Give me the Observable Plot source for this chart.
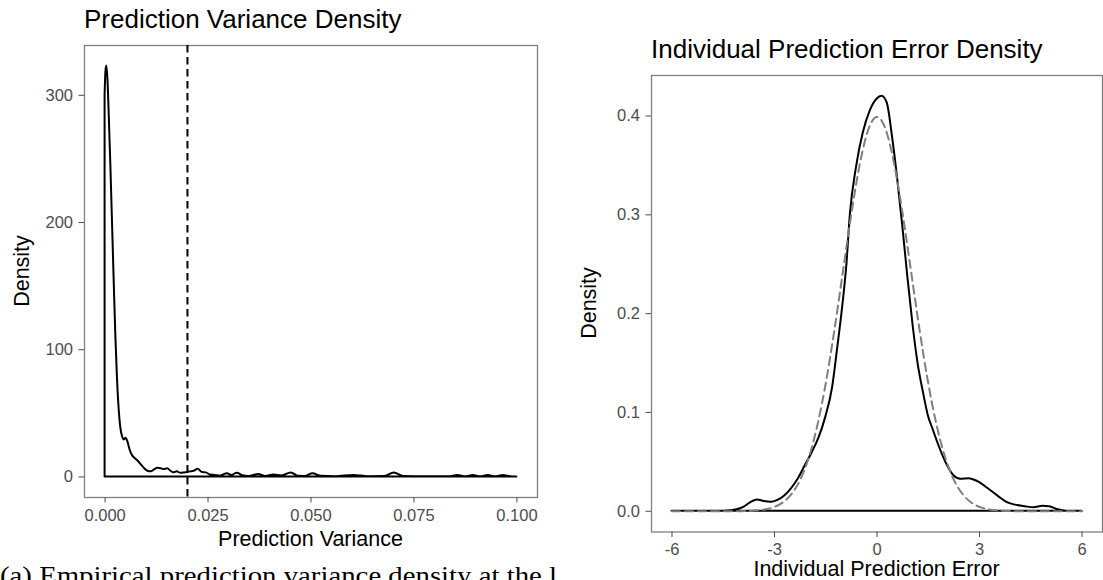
<!DOCTYPE html>
<html><head><meta charset="utf-8">
<script src="https://cdn.jsdelivr.net/npm/d3@7"></script>
<script src="https://cdn.jsdelivr.net/npm/@observablehq/plot@0.6"></script>
<style>
html,body{margin:0;padding:0;background:#fff;}
#wrap{position:relative;width:1103px;height:580px;overflow:hidden;background:#fff;}
.panel{position:absolute;top:0;}
#overlay{position:absolute;left:0;top:0;pointer-events:none;}
</style></head><body>
<div id="wrap">
  <div id="left" class="panel" style="left:0px"></div>
  <div id="right" class="panel" style="left:560px"></div>
  <svg id="overlay" width="1103" height="580" font-family="Liberation Sans, Arial, Helvetica, sans-serif">
    <text x="84" y="27.5" font-size="26" fill="#000">Prediction Variance Density</text>
    <text x="651" y="57.5" font-size="26" fill="#000">Individual Prediction Error Density</text>
    <text x="310.5" y="546" font-size="21.5" text-anchor="middle" fill="#000">Prediction Variance</text>
    <text transform="translate(28.5,271) rotate(-90)" font-size="21.5" text-anchor="middle" fill="#000">Density</text>
    <text x="876.5" y="575.5" font-size="21.5" text-anchor="middle" fill="#000">Individual Prediction Error</text>
    <text transform="translate(595.5,303) rotate(-90)" font-size="21.5" text-anchor="middle" fill="#000">Density</text>
    <text x="0" y="584" font-family="Liberation Serif, Times New Roman, serif" font-size="25" textLength="557" lengthAdjust="spacingAndGlyphs" fill="#000">(a) Empirical prediction variance density at the l</text>
  </svg>
</div>
<script>
// ---- Left panel: prediction variance density ----
const varianceX = [0, 0.0002, 0.0004, 0.0007, 0.001, 0.0014, 0.0018, 0.0022, 0.0026, 0.003, 0.0034, 0.0038, 0.0043, 0.0047, 0.0051, 0.0055, 0.006, 0.0066, 0.0073, 0.008, 0.0088, 0.0096, 0.0104, 0.0112, 0.012, 0.0128, 0.0136, 0.0144, 0.0152, 0.016, 0.0167, 0.0175, 0.0183, 0.0192, 0.02, 0.0208, 0.0216, 0.0226, 0.0236, 0.0246, 0.0256, 0.0268, 0.028, 0.0297, 0.0308, 0.0321, 0.0334, 0.035, 0.0373, 0.039, 0.041, 0.043, 0.0452, 0.047, 0.0485, 0.0505, 0.0525, 0.056, 0.0604, 0.064, 0.068, 0.0702, 0.0725, 0.078, 0.0835, 0.0857, 0.0876, 0.0894, 0.0912, 0.093, 0.0948, 0.0967, 0.0985, 0.1];
const varianceDensity = [300, 318, 323, 312, 285, 245, 200, 155, 112, 78, 54, 39, 31, 29, 30.5, 28, 22, 17, 14.5, 12.5, 9.5, 6.5, 4.5, 4, 5.5, 6.8, 6.5, 5.8, 6.5, 4.5, 3.3, 4, 3, 3.2, 3.5, 4, 4.5, 6, 3.5, 3.2, 1.5, 1.2, 0.6, 2.5, 1.2, 3, 1, 0.4, 2, 0.4, 1.5, 0.8, 3.2, 0.5, 0.4, 2.5, 0.5, 0.2, 1.2, 0.2, 0.3, 3.2, 0.3, 0.1, 0.2, 1.1, 0.2, 1.1, 0.2, 1.1, 0.2, 1.1, 0.2, 0];
const varianceThreshold = [0.02];
const varianceTicks = [0, 0.025, 0.05, 0.075, 0.1];
const varianceDensityTicks = [0, 100, 200, 300];

// ---- Right panel: individual prediction error density ----
const errorX = [-6, -5, -4.5, -4.3, -4.1, -3.9, -3.7, -3.5, -3.3, -3.1, -2.9, -2.7, -2.5, -2.3, -2.1, -1.9, -1.7, -1.5, -1.3, -1.15, -1.0, -0.88, -0.78, -0.6, -0.4, -0.2, 0, 0.15, 0.3, 0.45, 0.6, 0.75, 0.9, 1.05, 1.2, 1.36, 1.5, 1.65, 1.85, 2.05, 2.25, 2.45, 2.7, 2.95, 3.25, 3.55, 3.8, 4.05, 4.35, 4.6, 4.85, 5.05, 5.3, 5.55, 6];
const errorDensity = [0, 0, 0, 0.0005, 0.0015, 0.004, 0.0085, 0.0115, 0.0098, 0.009, 0.011, 0.0155, 0.023, 0.033, 0.046, 0.059, 0.074, 0.095, 0.125, 0.165, 0.208, 0.25, 0.30, 0.348, 0.383, 0.405, 0.417, 0.42, 0.413, 0.38, 0.338, 0.29, 0.238, 0.19, 0.15, 0.12, 0.097, 0.082, 0.063, 0.047, 0.036, 0.0325, 0.033, 0.030, 0.023, 0.015, 0.009, 0.0062, 0.0045, 0.0035, 0.005, 0.0045, 0.0015, 0, 0];
const normalX = [-6, -5, -4.5, -4, -3.5, -3.25, -3, -2.75, -2.5, -2.25, -2, -1.75, -1.5, -1.25, -1, -0.75, -0.5, -0.25, 0, 0.25, 0.5, 0.75, 1, 1.25, 1.5, 1.75, 2, 2.25, 2.5, 2.75, 3, 3.25, 3.5, 4, 4.5, 5, 6];
const normalDensity = [0, 0, 0, 0.0001, 0.0009, 0.002, 0.0044, 0.0091, 0.0175, 0.0317, 0.054, 0.0863, 0.1295, 0.1826, 0.242, 0.3011, 0.352, 0.3867, 0.399, 0.3867, 0.352, 0.3011, 0.242, 0.1826, 0.1295, 0.0863, 0.054, 0.0317, 0.0175, 0.0091, 0.0044, 0.002, 0.0009, 0.0001, 0, 0, 0];
const errorTicks = [-6, -3, 0, 3, 6];
const errorDensityTicks = [0, 0.1, 0.2, 0.3, 0.4];

const varianceData = varianceX.map((x, i) => ({x, y: varianceDensity[i]}));
const errorData = errorX.map((x, i) => ({x, y: errorDensity[i]}));
const normalData = normalX.map((x, i) => ({x, y: normalDensity[i]}));

const baseStyle = {
  fontFamily: "Liberation Sans, Arial, Helvetica, sans-serif",
  fontSize: "16.5px",
  background: "transparent",
  overflow: "visible"
};
const axisCommon = {tickSize: 5.5, tickPadding: 6, label: null, color: "#4d4d4d"};

const leftPlot = Plot.plot({
  width: 560, height: 580,
  marginLeft: 84, marginRight: 23, marginTop: 45, marginBottom: 83,
  x: {domain: [-0.005, 0.105]},
  y: {domain: [-16.15, 339.15]},
  style: baseStyle,
  marks: [
    Plot.frame({stroke: "#808080", strokeWidth: 1.3}),
    Plot.axisX({...axisCommon, ticks: varianceTicks, tickFormat: d => d.toFixed(3)}),
    Plot.axisY({...axisCommon, ticks: varianceDensityTicks, tickFormat: d => String(d)}),
    Plot.ruleX(varianceThreshold, {stroke: "black", strokeWidth: 2, strokeDasharray: "7.5,4.5"}),
    Plot.areaY(varianceData, {x: "x", y: "y", fill: "none", stroke: "black", strokeWidth: 2, strokeLinejoin: "round", curve: "monotone-x"})
  ]
});
document.getElementById("left").appendChild(leftPlot);

const rightPlot = Plot.plot({
  width: 543, height: 580,
  marginLeft: 91, marginRight: 1, marginTop: 75, marginBottom: 48.5,
  x: {domain: [-6.6, 6.6]},
  y: {domain: [-0.021, 0.441]},
  style: baseStyle,
  marks: [
    Plot.frame({stroke: "#808080", strokeWidth: 1.3}),
    Plot.axisX({...axisCommon, ticks: errorTicks, tickFormat: d => String(d)}),
    Plot.axisY({...axisCommon, ticks: errorDensityTicks, tickFormat: d => d.toFixed(1)}),
    Plot.areaY(errorData, {x: "x", y: "y", fill: "none", stroke: "black", strokeWidth: 2, strokeLinejoin: "round", curve: "monotone-x"}),
    Plot.line(normalData, {x: "x", y: "y", stroke: "#7f7f7f", strokeWidth: 2, strokeDasharray: "8,5", curve: "monotone-x"})
  ]
});
document.getElementById("right").appendChild(rightPlot);
</script>
</body></html>
